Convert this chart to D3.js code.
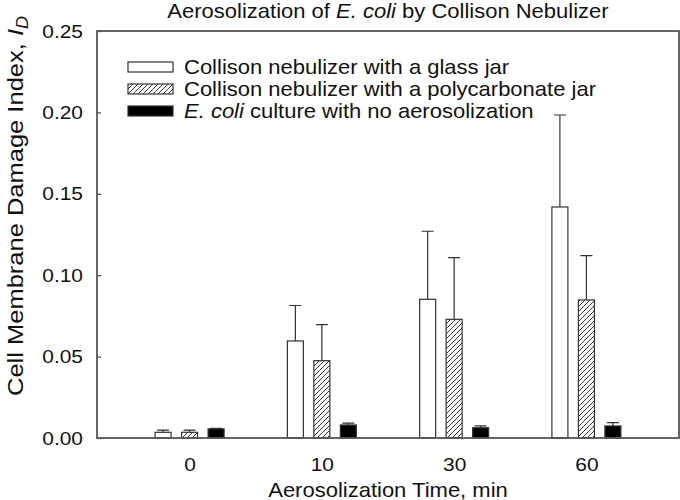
<!DOCTYPE html>
<html lang="en">
<head>
<meta charset="UTF-8">
<title>Aerosolization of E. coli by Collison Nebulizer</title>
<script src="https://cdn.jsdelivr.net/npm/d3@7/dist/d3.min.js"></script>
<style>
  body { margin: 0; background: #fff; }
  text { font-family: Arial, "Liberation Sans", sans-serif; fill: #111; }
</style>
</head>
<body>
<svg id="chart" width="680" height="500"></svg>
<script>
// data
const categories = ["0", "10", "30", "60"];
const yTicks = [0, 0.05, 0.10, 0.15, 0.20, 0.25];

const glassVals = [0.0035, 0.0596, 0.0852, 0.1419];
const glassErr  = [0.0013, 0.0218, 0.0418, 0.0565];
const polyVals  = [0.0035, 0.0475, 0.0729, 0.0848];
const polyErr   = [0.0013, 0.0221, 0.0379, 0.0272];
const ctrlVals  = [0.0056, 0.0080, 0.0063, 0.0074];
const ctrlErr   = [0.0003, 0.0011, 0.0011, 0.0020];

const seriesKeys = ["glass", "poly", "ctrl"];
const fills = { glass: "#fff", poly: "url(#hatch)", ctrl: "#000" };

const series = [
    { key: "glass", vals: glassVals, err: glassErr },
    { key: "poly", vals: polyVals, err: polyErr },
    { key: "ctrl", vals: ctrlVals, err: ctrlErr }
];

const box = { left: 97, right: 679, top: 31, bottom: 438 };
const stretch = 1.1;   // text in the figure is slightly wider than tall
const barW = 16;

const svg = d3.select("#chart");

// hatch for the polycarbonate jar
svg.append("defs").append("pattern")
    .attr("id", "hatch")
    .attr("patternUnits", "userSpaceOnUse")
    .attr("width", 5).attr("height", 5)
    .append("path")
    .attr("d", "M0,5 L5,0 M-1,1 L1,-1 M4,6 L6,4")
    .attr("stroke", "#222")
    .attr("stroke-width", 0.9);

const x = d3.scalePoint().domain(categories).range([box.left, box.right]).padding(0.7);
const xs = d3.scalePoint().domain(seriesKeys).range([-26.5, 26.5]);
const y = d3.scaleLinear().domain([0, 0.25]).range([box.bottom, box.top]);

// y axis, ticks pointing inward
const yAxis = svg.append("g")
    .attr("transform", "translate(" + box.left + ",0)")
    .call(d3.axisLeft(y).tickValues(yTicks).tickSize(-4).tickPadding(14).tickFormat(d3.format(".2f")));
yAxis.select(".domain").remove();
yAxis.selectAll("line").attr("stroke", "#555").attr("stroke-width", 1.3);
yAxis.selectAll("text")
    .attr("x", 0)
    .attr("transform", "translate(-14,0) scale(" + stretch + ",1)")
    .style("font-size", "19px");

// x axis, labels only
const xAxis = svg.append("g")
    .attr("transform", "translate(0," + box.bottom + ")")
    .call(d3.axisBottom(x).tickSize(0).tickPadding(20));
xAxis.select(".domain").remove();
xAxis.selectAll("text")
    .attr("transform", "scale(" + stretch + ",1)")
    .style("font-size", "19px");
xAxis.attr("font-family", null).attr("font-size", null);
yAxis.attr("font-family", null).attr("font-size", null);

// bars
const groups = svg.selectAll("g.series")
    .data(series)
    .enter().append("g")
    .attr("class", "series");

groups.selectAll("rect")
    .data(s => s.vals.map((v, i) => ({ key: s.key, cat: categories[i], v: v, e: s.err[i] })))
    .enter().append("rect")
    .attr("x", d => x(d.cat) + xs(d.key) - barW / 2)
    .attr("y", d => y(d.v))
    .attr("width", barW)
    .attr("height", d => y(0) - y(d.v))
    .attr("fill", d => fills[d.key])
    .attr("stroke", "#333")
    .attr("stroke-width", 1.2);

// error bars (upper only)
groups.selectAll("path.err")
    .data(s => s.vals.map((v, i) => ({ key: s.key, cat: categories[i], v: v, e: s.err[i] })))
    .enter().append("path")
    .attr("class", "err")
    .attr("d", d => {
        let cx = x(d.cat) + xs(d.key);
        let y0 = y(d.v), y1 = y(d.v + d.e);
        return "M" + cx + "," + y0 + "V" + y1 + "M" + (cx - 6) + "," + y1 + "H" + (cx + 6);
    })
    .attr("fill", "none")
    .attr("stroke", "#333")
    .attr("stroke-width", 1.2);

// frame
svg.append("rect")
    .attr("x", box.left).attr("y", box.top)
    .attr("width", box.right - box.left)
    .attr("height", box.bottom - box.top)
    .attr("fill", "none")
    .attr("stroke", "#555")
    .attr("stroke-width", 1.8);

// title
const title = svg.append("text")
    .attr("transform", "translate(388,18) scale(" + stretch + ",1)")
    .attr("text-anchor", "middle")
    .style("font-size", "20px");
title.append("tspan").text("Aerosolization of ");
title.append("tspan").style("font-style", "italic").text("E. coli");
title.append("tspan").text(" by Collison Nebulizer");

// axis titles
svg.append("text")
    .attr("transform", "translate(388,497) scale(" + stretch + ",1)")
    .attr("text-anchor", "middle")
    .style("font-size", "20px")
    .text("Aerosolization Time, min");

const yLab = svg.append("text")
    .attr("transform", "translate(23,206) rotate(-90) scale(1,0.9)")
    .attr("text-anchor", "middle")
    .style("font-size", "25.5px");
yLab.append("tspan").text("Cell Membrane Damage Index, ");
yLab.append("tspan").style("font-style", "italic").text("I");
yLab.append("tspan").style("font-style", "italic").style("font-size", "18px").attr("dy", 5).text("D");

// legend
const legendRows = [
    { key: "glass", label: [["Collison nebulizer with a glass jar", false]] },
    { key: "poly", label: [["Collison nebulizer with a polycarbonate jar", false]] },
    { key: "ctrl", label: [["E. coli", true], [" culture with no aerosolization", false]] }
];

const legend = svg.append("g").attr("transform", "translate(128,67)");
const rows = legend.selectAll("g")
    .data(legendRows)
    .enter().append("g")
    .attr("transform", (d, i) => "translate(0," + (i * 22) + ")");

rows.append("rect")
    .attr("x", 0).attr("y", -5)
    .attr("width", 45).attr("height", 10)
    .attr("fill", d => fills[d.key])
    .attr("stroke", "#333")
    .attr("stroke-width", 1.2);

rows.append("text")
    .attr("transform", "translate(56,7) scale(" + stretch + ",1)")
    .style("font-size", "20px")
    .selectAll("tspan")
    .data(d => d.label)
    .enter().append("tspan")
    .style("font-style", d => d[1] ? "italic" : "normal")
    .text(d => d[0]);
</script>
</body>
</html>
